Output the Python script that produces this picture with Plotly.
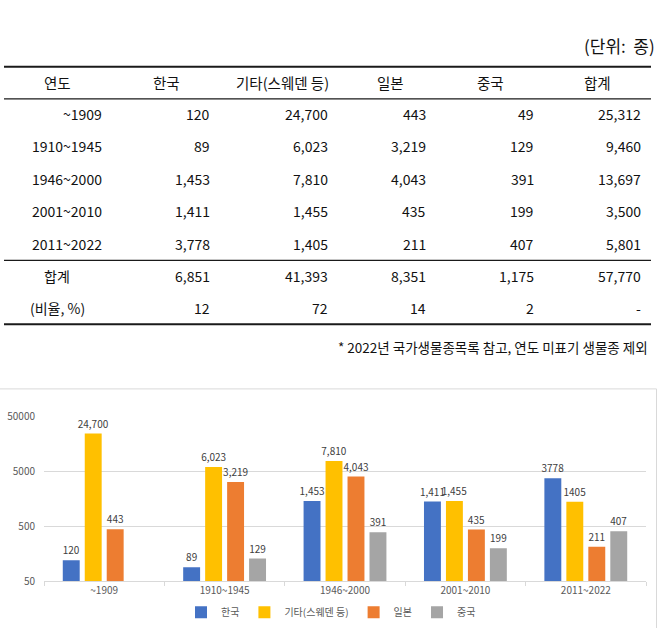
import math
import plotly.graph_objects as go

# ---------------- data ----------------
periods = ["~1909", "1910~1945", "1946~2000", "2001~2010", "2011~2022"]
korea = [120, 89, 1453, 1411, 3778]
other = [24700, 6023, 7810, 1455, 1405]
japan = [443, 3219, 4043, 435, 211]
china = [49, 129, 391, 199, 407]
row_totals = [25312, 9460, 13697, 3500, 5801]
col_totals = [6851, 41393, 8351, 1175, 57770]
ratios = ["12", "72", "14", "2", "-"]

series_names = ["한국", "기타(스웨덴 등)", "일본", "중국"]
header_labels = ["연도", "한국", "기타(스웨덴 등)", "일본", "중국", "합계"]
unit_text = "(단위:  종)"
footnote = "* 2022년 국가생물종목록 참고, 연도 미표기 생물종 제외"
# chart labels use thousands separators except the last period group
label_comma = [True, True, True, True, False]
yticks = [50, 500, 5000, 50000]

# ---------------- style / layout ----------------
W, H = 658, 634
FONT = "Noto Sans CJK KR"
colors = ["#4472C4", "#FFC000", "#ED7D31", "#A5A5A5"]


def px(x):
    return x / W


def py(y):
    return 1 - y / H


fig = go.Figure()

# ---------- bar chart ----------
series = [korea, other, japan, china]
for name, vals, col in zip(series_names, series, colors):
    txt = []
    for v, c in zip(vals, label_comma):
        if v < yticks[0]:
            txt.append("")
        else:
            txt.append(f"{v:,}" if c else str(v))
    fig.add_trace(go.Bar(
        x=periods, y=vals, name=name, marker_color=col, marker_line_width=0,
        text=txt, textposition="outside", constraintext="none", cliponaxis=False,
        textfont=dict(size=10, color="#404040", family=FONT),
        hoverinfo="x+y+name",
    ))

fig.update_layout(
    width=W, height=H,
    margin=dict(l=0, r=0, t=0, b=0),
    paper_bgcolor="white", plot_bgcolor="white",
    font=dict(family=FONT, color="#000000"),
    barmode="group", bargap=0.27, bargroupgap=0.23,
    showlegend=True,
    legend=dict(orientation="h", x=px(331), xanchor="center", y=py(618), yanchor="middle",
                font=dict(size=10, color="#595959", family=FONT),
                itemwidth=30, traceorder="normal", bgcolor="rgba(0,0,0,0)"),
    xaxis=dict(domain=[px(44), px(646)], showgrid=False, showline=True,
               linecolor="#D9D9D9", linewidth=1, ticks="outside", tickson="boundaries",
               ticklen=4, tickcolor="#D9D9D9",
               tickfont=dict(size=10, color="#595959", family=FONT), fixedrange=True),
    yaxis=dict(domain=[py(586), py(418)], type="log",
               range=[math.log10(yticks[0]), math.log10(yticks[-1])],
               tickvals=yticks, ticktext=[str(t) for t in yticks],
               showgrid=True, gridcolor="#D9D9D9", gridwidth=1, zeroline=False,
               showline=False, ticks="", ticklabelstandoff=8,
               tickfont=dict(size=10, color="#595959", family=FONT), fixedrange=True),
)

# chart border (top and right edges of the chart frame)
fig.add_shape(type="line", xref="paper", yref="paper",
              x0=px(0), x1=px(656.5), y0=py(389.5), y1=py(389.5),
              line=dict(color="#D9D9D9", width=1), layer="below")
fig.add_shape(type="line", xref="paper", yref="paper",
              x0=px(656.5), x1=px(656.5), y0=py(389.5), y1=py(H),
              line=dict(color="#D9D9D9", width=1), layer="below")

# ---------- table ----------
annotations = []
TBL = 14
TXT = "#111111"


def ann(text, x, y, anchor, size=TBL):
    annotations.append(dict(text=text, x=px(x), y=py(y), xref="paper", yref="paper",
                            xanchor=anchor, yanchor="middle", showarrow=False,
                            font=dict(size=size, color=TXT, family=FONT)))


ann(unit_text, 657, 38, "right", 17)

header_cx = [57, 166, 282, 390, 490, 597]
num_right = [104, 212, 330, 428, 536, 643]
header_y = 76
row_y = [108, 141.5, 175, 208, 241]
sum_y, ratio_y = 274, 307

for lab, cx in zip(header_labels, header_cx):
    ann(lab, cx, header_y, "center", 14.5)

for i, per in enumerate(periods):
    vals = [per, f"{korea[i]:,}", f"{other[i]:,}", f"{japan[i]:,}", f"{china[i]:,}", f"{row_totals[i]:,}"]
    for v, rx in zip(vals, num_right):
        ann(v, rx, row_y[i], "right")

ann("합계", 57, sum_y, "center")
ann("(비율, %)", 57, ratio_y, "center")
for v, rx in zip(col_totals, num_right[1:]):
    ann(f"{v:,}", rx, sum_y, "right")
for v, rx in zip(ratios, num_right[1:]):
    ann(v, rx, ratio_y, "right")

ann(footnote, 650, 347, "right", 13.5)

fig.update_layout(annotations=annotations)

# table rules
for yy, wd in [(60, 2), (93, 1.2), (258, 1.2), (323.5, 2)]:
    fig.add_shape(type="line", xref="paper", yref="paper",
                  x0=px(4), x1=px(651), y0=py(yy), y1=py(yy),
                  line=dict(color="#1a1a1a", width=wd))

fig.write_html(
    "out.html",
    config={"displayModeBar": False},
    post_script="document.body.style.margin='0';document.body.style.overflow='hidden';",
)
